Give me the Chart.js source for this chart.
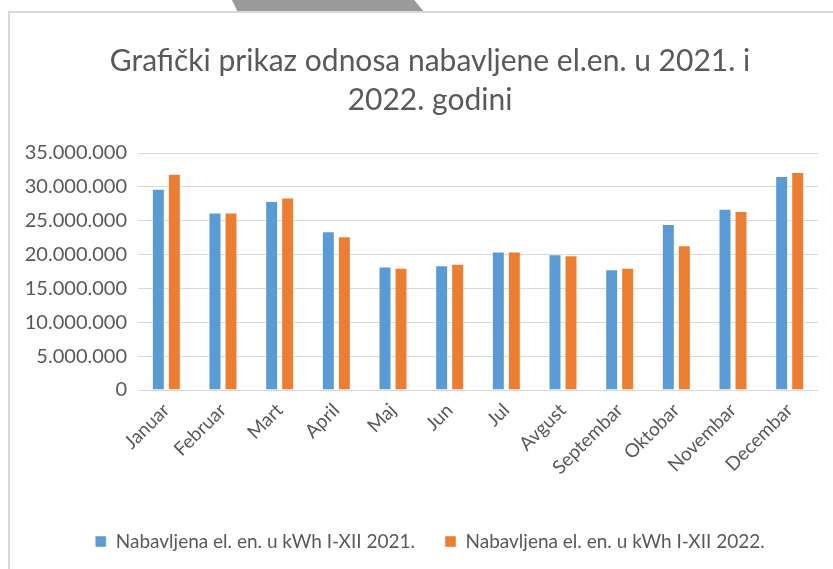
<!DOCTYPE html>
<html>
<head>
<meta charset="utf-8">
<script src="https://cdn.jsdelivr.net/npm/chart.js@4"></script>
<style>
  html, body { margin: 0; padding: 0; background: #fff; width: 833px; height: 569px; overflow: hidden; position: relative; }
  /* grey tab peeking in above the chart frame */
  #tab { position: absolute; left: 230px; top: 0; width: 194px; height: 12px; background: #9a9a9a;
         clip-path: polygon(1% 0, 95% 0, 100% 100%, 4% 100%); }
  #frame { position: absolute; left: 8px; top: 11px; width: 900px; height: 600px;
           border-top: 2px solid #d9d9d9; border-left: 2px solid #d9d9d9; }
  #wrap { position: absolute; left: 9px; top: 12px; width: 842px; height: 557px; }
</style>
</head>
<body>
<div id="tab"></div>
<div id="frame"></div>
<div id="wrap"><canvas id="chart"></canvas></div>
<script>
// Monthly procured electricity (kWh)
const months = ['Januar', 'Februar', 'Mart', 'April', 'Maj', 'Jun', 'Jul', 'Avgust', 'Septembar', 'Oktobar', 'Novembar', 'Decembar'];
const values2021 = [29730000, 26220000, 27900000, 23460000, 18240000, 18440000, 20460000, 20060000, 17840000, 24500000, 26770000, 31600000];
const values2022 = [31940000, 26220000, 28440000, 22720000, 18040000, 18630000, 20460000, 19910000, 18040000, 21390000, 26420000, 32190000];
const seriesNames = ['Nabavljena el. en. u kWh I-XII 2021.', 'Nabavljena el. en. u kWh I-XII 2022.'];
const yTicks = [0, 5000000, 10000000, 15000000, 20000000, 25000000, 30000000, 35000000];
const titleLines = ['Grafički prikaz odnosa nabavljene el.en. u 2021. i', '2022. godini'];

const textGrey = '#595959';
const fontFamily = 'Lato, "Noto Sans", sans-serif';

// thousands separated with dots, like the original
function dotted(v) {
  return String(v).replace(/\B(?=(\d{3})+(?!\d))/g, '.');
}

// title and legend are centred on the whole frame, not on the padded plot width
const fullWidthBlocks = {
  id: 'fullWidthBlocks',
  afterLayout(chart) {
    if (chart.titleBlock) chart.titleBlock.right = chart.width;
    if (chart.legend) chart.legend.right = chart.width;
  }
};

const ctx = document.getElementById('chart').getContext('2d');
new Chart(ctx, {
  type: 'bar',
  data: {
    labels: months,
    datasets: [
      {
        label: seriesNames[0],
        data: values2021,
        backgroundColor: '#5b9bd5',
        borderColor: 'rgba(255,255,255,0.45)',
        borderWidth: 1,
        categoryPercentage: 0.565,
        barPercentage: 0.81
      },
      {
        label: seriesNames[1],
        data: values2022,
        backgroundColor: '#ed7d31',
        borderColor: 'rgba(255,255,255,0.45)',
        borderWidth: 1,
        categoryPercentage: 0.565,
        barPercentage: 0.81
      }
    ]
  },
  plugins: [fullWidthBlocks],
  options: {
    responsive: true,
    maintainAspectRatio: false,
    animation: false,
    layout: { padding: { left: 0, right: 33, top: 0, bottom: 8 } },
    plugins: {
      title: {
        display: true,
        text: titleLines,
        color: textGrey,
        font: { family: fontFamily, size: 30, weight: 'normal', lineHeight: 1.3 },
        padding: { top: 30, bottom: 33 }
      },
      legend: {
        position: 'bottom',
        labels: {
          color: textGrey,
          font: { family: fontFamily, size: 19 },
          boxWidth: 11,
          boxHeight: 11,
          padding: 30
        }
      },
      tooltip: { enabled: false }
    },
    scales: {
      x: {
        grid: { display: false },
        border: { display: false },
        ticks: {
          color: textGrey,
          font: { family: fontFamily, size: 19 },
          maxRotation: 45,
          minRotation: 45,
          autoSkip: false,
          padding: 1
        },
        afterFit: function (scale) { scale.height = 112; }
      },
      y: {
        min: 0,
        max: 35000000,
        afterBuildTicks: function (scale) { scale.ticks = yTicks.map(v => ({ value: v })); },
        grid: { color: '#d9d9d9', lineWidth: 1, drawTicks: false },
        border: { display: false },
        ticks: {
          color: textGrey,
          font: { family: fontFamily, size: 20 },
          padding: 11,
          callback: function (v) { return dotted(v); }
        },
        afterFit: function (scale) { scale.width = 129; }
      }
    }
  }
});
</script>
</body>
</html>
